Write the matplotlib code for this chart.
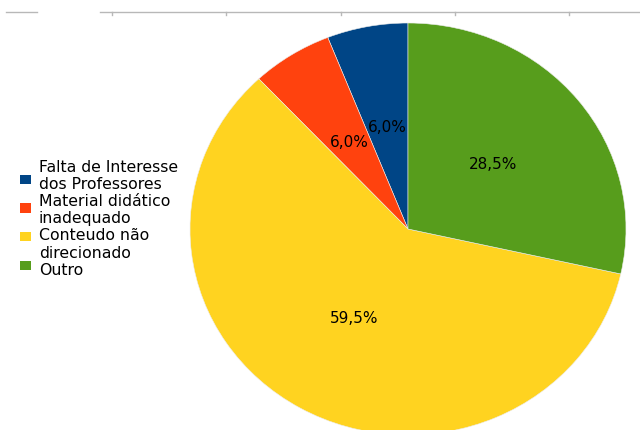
import matplotlib.pyplot as plt
from matplotlib.lines import Line2D
from matplotlib.patches import Rectangle

# Motivos citados (percentual das respostas)
labels = ['Falta de Interesse\ndos Professores',
          'Material didático\ninadequado',
          'Conteudo não\ndirecionado',
          'Outro']
values = [6.0, 6.0, 59.5, 28.5]
colors = ['#004586', '#ff420e', '#ffd320', '#579d1c']

W, H = 640, 430


def fx(px):
    return px / W


def fy(py):
    return 1 - py / H


def pct_virgula(p):
    return f"{p:.1f}%".replace('.', ',')


fig = plt.figure(figsize=(W / 100, H / 100), dpi=100)

# pizza levemente achatada na vertical
cx, cy, rx, ry = 408, 229, 218, 206
ax = fig.add_axes([fx(cx - rx), fy(cy + ry), 2 * rx / W, 2 * ry / H])
wedges, texts, autotexts = ax.pie(
    values, colors=colors, startangle=90, counterclock=True,
    autopct=pct_virgula, pctdistance=0.5,
    wedgeprops=dict(edgecolor='#ececec', linewidth=0.4),
    textprops=dict(fontsize=11, color='black'))
ax.set_aspect('auto')
ax.set_xlim(-1, 1)
ax.set_ylim(-1, 1)
for w in wedges:
    w.set_clip_on(False)

# linha de eixo cinza no topo
cinza = '#b8b8b8'
fig.add_artist(Line2D([fx(6), fx(37)], [fy(12.3), fy(12.3)], color=cinza, lw=1))
fig.add_artist(Line2D([fx(100), fx(640)], [fy(12.3), fy(12.3)], color=cinza, lw=1))
for k in range(5):
    xt = 112 + k * 114.3
    fig.add_artist(Line2D([fx(xt), fx(xt)], [fy(12.3), fy(15)], color=cinza, lw=1))

# legenda
linha = 0
for i, (lab, cor) in enumerate(zip(labels, colors)):
    yc = 179.5 + i * 28.6
    fig.add_artist(Rectangle((fx(20), fy(yc + 4.75)), 10.5 / W, 9.5 / H,
                             facecolor=cor, edgecolor='none'))
    for parte in lab.split('\n'):
        fig.text(fx(39), fy(171.7 + linha * 17.2), parte, fontsize=11.3,
                 va='baseline', ha='left', color='black')
        linha += 1

fig.savefig('out.png', dpi=100)
